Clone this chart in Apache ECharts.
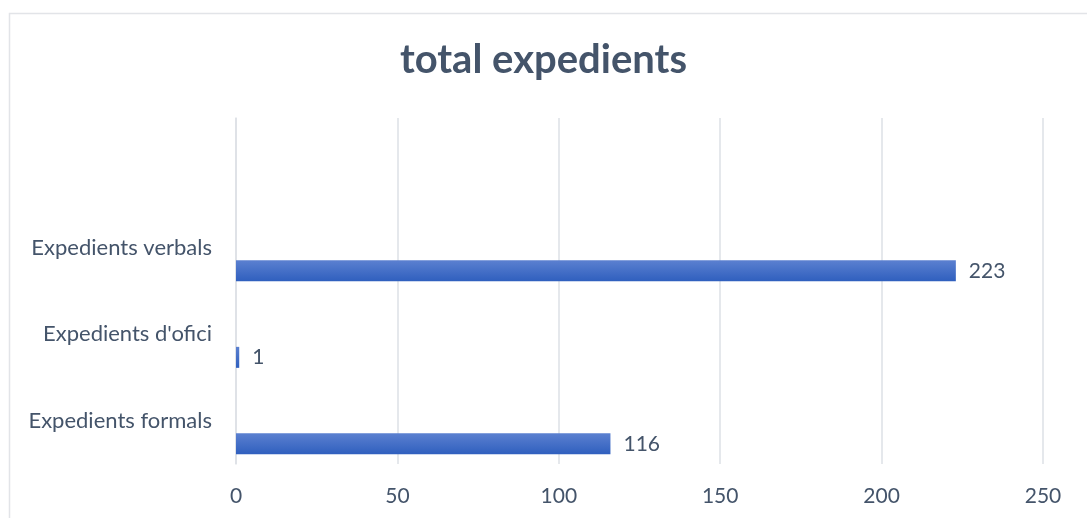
<!DOCTYPE html>
<html>
<head>
<meta charset="utf-8">
<script src="https://cdn.jsdelivr.net/npm/echarts@6/dist/echarts.min.js"></script>
<style>
html,body{margin:0;padding:0;background:#fff;}
#chart{width:1087px;height:518px;}
</style>
</head>
<body>
<div id="chart"></div>
<script>
const titleText = 'total expedients';
const categories = ['Expedients formals', "Expedients d'ofici", 'Expedients verbals', ''];
const values = [116, 1, 223, null];
const emptySeries = [null, null, null, null];
const xTicks = { min: 0, max: 250, interval: 50 };

const chart = echarts.init(document.getElementById('chart'));
const textColor = '#44546A';
const font = 'Lato, "Open Sans", sans-serif';
chart.setOption({
  animation: false,
  backgroundColor: '#fff',
  title: {
    text: titleText, left: 'center', top: 35,
    textStyle: { fontSize: 40, fontWeight: 'bold', color: textColor, fontFamily: font }
  },
  graphic: [{
    type: 'rect', shape: { x: 9.5, y: 13.5, width: 1100, height: 520 },
    style: { fill: 'none', stroke: '#e2e4e8', lineWidth: 1.5 }, silent: true, z: -1
  }],
  grid: { left: 236, right: 44, top: 118, bottom: 54, containLabel: false },
  xAxis: {
    type: 'value', min: xTicks.min, max: xTicks.max, interval: xTicks.interval,
    axisLine: { show: false }, axisTick: { show: false },
    splitLine: { show: true, lineStyle: { color: '#dde0e6', width: 1.5 } },
    axisLabel: { color: textColor, fontSize: 21, fontFamily: font, margin: 22 }
  },
  yAxis: {
    type: 'category', data: categories,
    axisLine: { show: true, lineStyle: { color: '#dde0e6', width: 1.5 } },
    axisTick: { show: false },
    axisLabel: { color: textColor, fontSize: 22, fontFamily: font, margin: 24 }
  },
  series: [
    { type: 'bar', data: emptySeries, barWidth: 21, barGap: '120%', silent: true },
    {
      type: 'bar', data: values, barWidth: 21,
      itemStyle: {
        color: new echarts.graphic.LinearGradient(0, 0, 0, 1, [
          { offset: 0, color: '#5b80d0' }, { offset: 1, color: '#2f5fbe' }
        ])
      },
      label: { show: true, position: 'right', distance: 13, color: textColor, fontSize: 21, fontFamily: font }
    }
  ]
});
</script>
</body>
</html>
